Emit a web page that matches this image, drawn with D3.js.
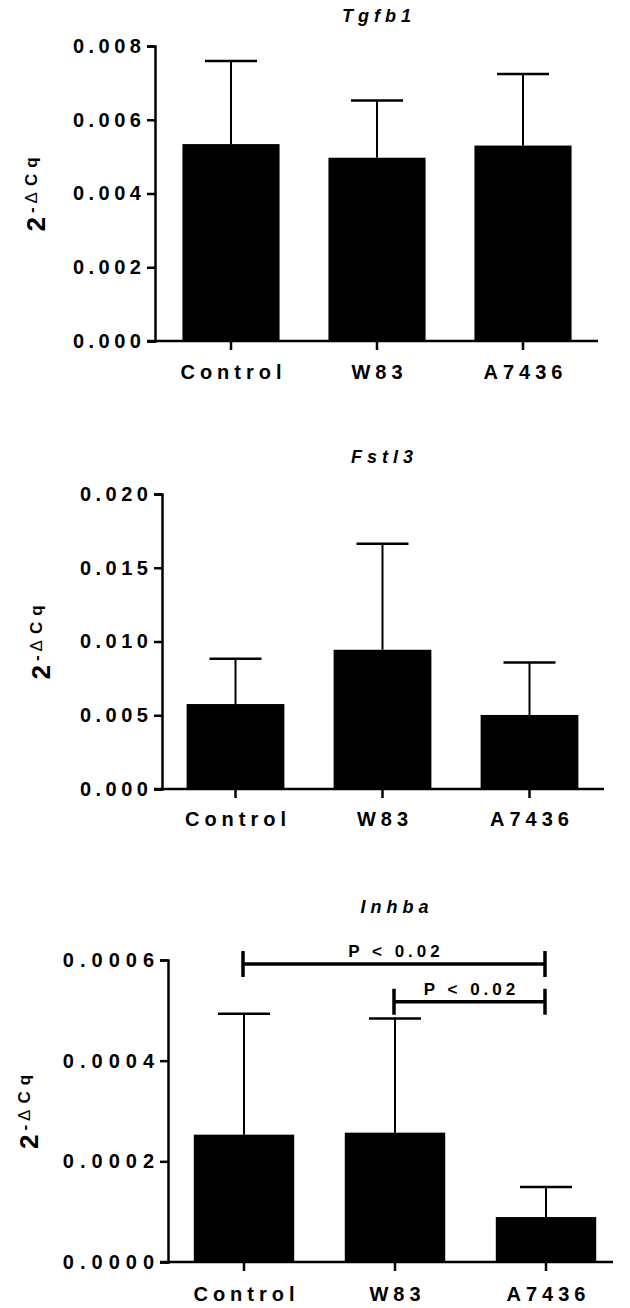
<!DOCTYPE html>
<html>
<head>
<meta charset="utf-8">
<script src="https://cdn.jsdelivr.net/npm/d3@7"></script>
<style>
  body { margin: 0; background: #fff; }
  svg { display: block; }
  text { font-family: "Liberation Sans", Arial, sans-serif; font-weight: bold; fill: #000; }
</style>
</head>
<body>
<svg id="fig" width="630" height="1308"></svg>
<script>
// data (mean and upper SD)
const categories = ["Control", "W83", "A7436"];

const tgfb1Mean = [0.00534, 0.00497, 0.00530];
const tgfb1Err = [0.00225, 0.00155, 0.00194];
const tgfb1Ticks = [0, 0.002, 0.004, 0.006, 0.008];

const fstl3Mean = [0.00576, 0.00944, 0.00502];
const fstl3Err = [0.00307, 0.00719, 0.00356];
const fstl3Ticks = [0, 0.005, 0.010, 0.015, 0.020];

const inhbaMean = [0.000253, 0.000257, 0.0000893];
const inhbaErr = [0.000240, 0.000227, 0.0000597];
const inhbaTicks = [0, 0.0002, 0.0004, 0.0006];

// significance brackets: from, to, height, label
const inhbaCompFrom = ["Control", "W83"];
const inhbaCompTo = ["A7436", "A7436"];
const inhbaCompY = [0.000592, 0.000517];
const inhbaCompLabel = ["P < 0.02", "P < 0.02"];

const svg = d3.select("#fig");

// panel layout (pixels)
const panels = [
  { title: "Tgfb1", mean: tgfb1Mean, err: tgfb1Err, ticks: tgfb1Ticks, fmt: d3.format(".3f"),
    axisX: 155, axisEnd: 598, yTop: 46, yBottom: 341, band: [158, 596], titleY: 22, ylabX: 45, labY: 38,
    fs: 20, ls: 4.5 },
  { title: "Fstl3", mean: fstl3Mean, err: fstl3Err, ticks: fstl3Ticks, fmt: d3.format(".3f"),
    axisX: 162, axisEnd: 604, yTop: 494, yBottom: 789, band: [162, 603], titleY: 463, ylabX: 50, labY: 37,
    fs: 20, ls: 4.5 },
  { title: "Inhba", mean: inhbaMean, err: inhbaErr, ticks: inhbaTicks, fmt: d3.format(".4f"),
    axisX: 168, axisEnd: 613, yTop: 960, yBottom: 1262, band: [168.5, 621.5], titleY: 913, ylabX: 38, labY: 39,
    fs: 20, ls: 6, comps: true }
];

panels.forEach(p => {
  const g = svg.append("g");

  const x = d3.scaleBand()
    .domain(categories)
    .range(p.band)
    .paddingInner(0.335)
    .paddingOuter(0.1675);

  const y = d3.scaleLinear()
    .domain([0, d3.max(p.ticks)])
    .range([p.yBottom, p.yTop]);

  // bars
  g.selectAll(".bar")
    .data(categories)
    .join("rect")
    .attr("x", d => x(d))
    .attr("width", x.bandwidth())
    .attr("y", (d, i) => y(p.mean[i]))
    .attr("height", (d, i) => y(0) - y(p.mean[i]))
    .attr("fill", "#000");

  // error bars (upper only)
  const eb = g.selectAll(".err")
    .data(categories)
    .join("g");
  eb.append("line")
    .attr("x1", d => x(d) + x.bandwidth() / 2)
    .attr("x2", d => x(d) + x.bandwidth() / 2)
    .attr("y1", (d, i) => y(p.mean[i]))
    .attr("y2", (d, i) => y(p.mean[i] + p.err[i]))
    .attr("stroke", "#000")
    .attr("stroke-width", 2);
  eb.append("line")
    .attr("x1", d => x(d) + x.bandwidth() / 2 - 26)
    .attr("x2", d => x(d) + x.bandwidth() / 2 + 26)
    .attr("y1", (d, i) => y(p.mean[i] + p.err[i]))
    .attr("y2", (d, i) => y(p.mean[i] + p.err[i]))
    .attr("stroke", "#000")
    .attr("stroke-width", 2.5);

  // y axis
  const yAxis = g.append("g")
    .attr("transform", `translate(${p.axisX},0)`)
    .call(d3.axisLeft(y).tickValues(p.ticks).tickFormat(p.fmt).tickSizeOuter(0).tickSize(8).tickPadding(6));
  yAxis.select(".domain").attr("stroke-width", 2.5);
  yAxis.selectAll(".tick line").attr("stroke-width", 2.5);
  yAxis.selectAll(".tick text")
    .attr("font-size", p.fs)
    .attr("font-family", null)
    .style("letter-spacing", p.ls + "px")
    .attr("dx", p.ls + "px");

  // x axis
  const xAxis = g.append("g")
    .attr("transform", `translate(0,${p.yBottom})`)
    .call(d3.axisBottom(x).tickSizeOuter(0).tickSize(9).tickPadding(13));
  xAxis.select(".domain").remove();
  xAxis.selectAll(".tick line").attr("stroke-width", 2.5);
  xAxis.selectAll(".tick text")
    .attr("font-size", 20)
    .attr("font-family", null)
    .attr("dy", null)
    .attr("y", p.labY)
    .attr("dx", "2.5px")
    .style("letter-spacing", "5px");
  g.append("line")
    .attr("x1", p.axisX - 8).attr("x2", p.axisEnd)
    .attr("y1", p.yBottom).attr("y2", p.yBottom)
    .attr("stroke", "#000").attr("stroke-width", 2.5);

  // title
  g.append("text")
    .attr("x", (p.band[0] + p.band[1]) / 2 + 2)
    .attr("y", p.titleY)
    .attr("text-anchor", "middle")
    .attr("font-size", 18)
    .style("font-style", "italic")
    .style("letter-spacing", "5px")
    .text(p.title);

  // y label 2^-ΔCq
  const yl = g.append("text")
    .attr("transform", `translate(${p.ylabX},${(p.yTop + p.yBottom) / 2 - 2}) rotate(-90)`)
    .attr("text-anchor", "middle")
    .style("font-size", "26px");
  yl.append("tspan").style("font-size", "26px").text("2");
  yl.append("tspan").style("font-size", "17px").attr("dy", -8).attr("dx", 4).text("-");
  yl.append("tspan").style("font-size", "17px").style("font-weight", "normal").attr("dx", 4).text("Δ");
  yl.append("tspan").style("font-size", "17px").attr("dx", 6).style("letter-spacing", "6px").text("Cq");

  // significance brackets
  if (p.comps) {
    inhbaCompFrom.forEach((from, i) => {
      const x1 = x(from) + x.bandwidth() / 2 - 1;
      const x2 = x(inhbaCompTo[i]) + x.bandwidth() / 2 - 1;
      const yy = y(inhbaCompY[i]);
      const br = g.append("g").attr("stroke", "#000").attr("stroke-width", 3.5);
      br.append("line").attr("x1", x1).attr("x2", x2).attr("y1", yy).attr("y2", yy);
      br.append("line").attr("x1", x1).attr("x2", x1).attr("y1", yy - 13).attr("y2", yy + 13);
      br.append("line").attr("x1", x2).attr("x2", x2).attr("y1", yy - 13).attr("y2", yy + 13);
      g.append("text")
        .attr("x", (x1 + x2) / 2 + 2)
        .attr("y", yy - 7)
        .attr("text-anchor", "middle")
        .attr("font-size", 17)
        .style("letter-spacing", "4px")
        .text(inhbaCompLabel[i]);
    });
  }
});
</script>
</body>
</html>
